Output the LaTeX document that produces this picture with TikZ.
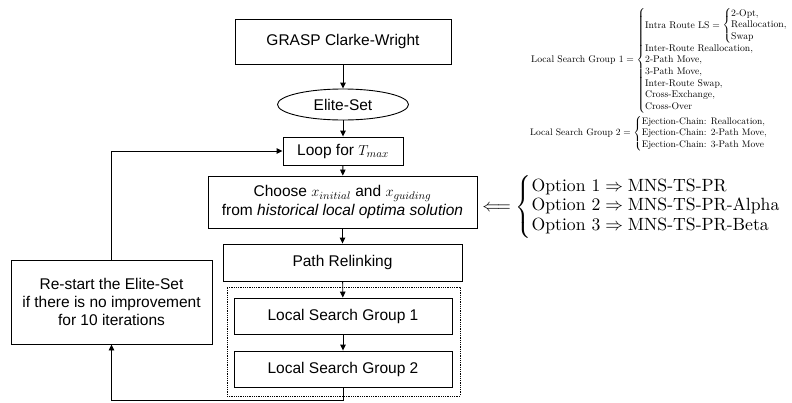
\documentclass[tikz,border=0pt]{standalone}
\usepackage{amsmath}
\usepackage{fontspec}
\newfontfamily\arial{Liberation Sans}
\usetikzlibrary{shapes.geometric,arrows.meta}
\begin{document}
\begin{tikzpicture}[x=1pt,y=-1pt,
  box/.style={draw,line width=0.9pt,rectangle,inner sep=0pt,align=center,
    font=\arial\fontsize{15.5}{19}\selectfont},
  conn/.style={line width=0.9pt,-{Triangle[length=6pt,width=5.5pt]}},
  groupbox/.style={draw,densely dotted,line width=0.8pt},
  formula/.style={anchor=west,inner sep=0pt}
]
\useasboundingbox (0,0) rectangle (792,402);

% flow chart
\node[box,minimum width=216pt,minimum height=45pt] (grasp) at (343,41.5) {GRASP Clarke-Wright};
\node[box,ellipse,minimum width=131pt,minimum height=31pt] (elite) at (343,104.5) {Elite-Set};
\node[box,minimum width=120pt,minimum height=28pt] (loop) at (343,151) {Loop for $T_{max}$};
\node[box,minimum width=269pt,minimum height=52pt] (choose) at (342.5,202)
  {Choose $x_{initial}$ and $x_{guiding}$\\from \textit{historical local optima solution}};
\node[box,minimum width=239pt,minimum height=37pt] (pr) at (342.5,262.5) {Path Relinking};
\node[groupbox,minimum width=233pt,minimum height=109pt,inner sep=0pt] (grp) at (343.5,341.5) {};
\node[box,minimum width=218pt,minimum height=36pt] (ls1) at (343,316) {Local Search Group 1};
\node[box,minimum width=218pt,minimum height=36pt] (ls2) at (343,369) {Local Search Group 2};
\node[box,minimum width=201pt,minimum height=84pt,font=\arial\fontsize{15.5}{18.3}\selectfont] (restart) at (111.5,302)
  {Re-start the Elite-Set\\if there is no improvement\\for 10 iterations};

\coordinate (bot) at (343,400.5);
\coordinate (botl) at (111.5,400.5);

\draw[conn] (grasp) -- (elite);
\draw[conn] (elite) -- (loop);
\draw[conn] (loop) -- (choose);
\draw[conn] (choose) -- (pr);
\draw[conn] (pr) -- (ls1);
\draw[conn] (ls1) -- (ls2);
\draw[conn] (ls2.south) -- (bot) -- (botl) -- (restart.south);
\draw[conn] (restart.north) |- (loop.west);

% formulas
\node[formula,scale=0.97] (g1) at (531,60.5) {$\text{Local Search Group 1} = \left\{\begin{array}{@{}l@{}}
  \text{Intra Route LS} = \left\{\begin{array}{@{}l@{}}\text{2-Opt,}\\ \text{Reallocation,}\\ \text{Swap}\end{array}\right.\\
  \text{Inter-Route Reallocation,}\\
  \text{2-Path Move,}\\
  \text{3-Path Move,}\\
  \text{Inter-Route Swap,}\\
  \text{Cross-Exchange,}\\
  \text{Cross-Over}\end{array}\right.$};
\node[formula,scale=0.95] (g2) at (530,133.5) {$\text{Local Search Group 2} = \left\{\begin{array}{@{}l@{}}
  \text{Ejection-Chain: Reallocation,}\\
  \text{Ejection-Chain: 2-Path Move,}\\
  \text{Ejection-Chain: 3-Path Move}\end{array}\right.$};
\node[formula,scale=1.77] (opts) at (482,207) {\def\arraystretch{0.94}$\Longleftarrow\left\{\begin{array}{@{}l@{}}
  \text{Option 1}\Rightarrow\text{MNS-TS-PR}\\
  \text{Option 2}\Rightarrow\text{MNS-TS-PR-Alpha}\\
  \text{Option 3}\Rightarrow\text{MNS-TS-PR-Beta}\end{array}\right.$};
\end{tikzpicture}
\end{document}
